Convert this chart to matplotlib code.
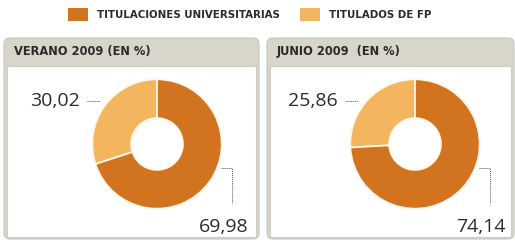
import matplotlib.pyplot as plt
from matplotlib.patches import FancyBboxPatch, Rectangle

categories = ["TITULACIONES UNIVERSITARIAS", "TITULADOS DE FP"]
panels = ["VERANO 2009 (EN %)", "JUNIO 2009  (EN %)"]
univ = [69.98, 74.14]
fp = [30.02, 25.86]
univ_labels = ["69,98", "74,14"]
fp_labels = ["30,02", "25,86"]

DARK = "#d2731f"
LIGHT = "#f3b65e"
HEAD = "#d8d5cb"
TXT = "#2b2b2b"

W, H = 515, 241
fig = plt.figure(figsize=(W / 100, H / 100), dpi=100)
bg = fig.add_axes([0, 0, 1, 1])
bg.set_xlim(0, W)
bg.set_ylim(H, 0)
bg.axis("off")

bold = dict(family="DejaVu Sans", stretch="condensed", weight="bold", color=TXT)

# legend
for x, col, lab in [(68, DARK, categories[0]), (300, LIGHT, categories[1])]:
    bg.add_patch(Rectangle((x, 8), 20, 13, color=col, lw=0))
    bg.text(x + 29, 15, lab, fontsize=8.2, va="center", ha="left", **bold)

# panels
panel_x = [(4, 259), (267, 514)]
pie_cx = [157, 415]
for i, (x0, x1) in enumerate(panel_x):
    bg.add_patch(FancyBboxPatch((x0, 38), x1 - x0, 201,
                                boxstyle="round,pad=0,rounding_size=6",
                                fc=HEAD, ec="#c9c6bc", lw=0.8))
    bg.add_patch(Rectangle((x0 + 3, 66), x1 - x0 - 6, 171, fc="white",
                           ec="#cfccc2", lw=0.8))
    bg.text(x0 + 10, 52, panels[i], fontsize=9.2, va="center", ha="left", **bold)

    r = 66
    cx, cy = pie_cx[i], 144
    ax = fig.add_axes([(cx - r) / W, 1 - (cy + r) / H, 2 * r / W, 2 * r / H])
    ax.pie([fp[i], univ[i]], colors=[LIGHT, DARK], startangle=90,
           counterclock=True, radius=1,
           wedgeprops=dict(width=0.6, edgecolor="#fdf6ea", linewidth=1.3))
    ax.set_xlim(-1.02, 1.02)
    ax.set_ylim(-1.02, 1.02)
    ax.set_aspect("equal")
    ax.axis("off")

    # labels and leader lines
    bg.text(cx - 77, 101, fp_labels[i], fontsize=14, ha="right", va="center",
            color=TXT, family=["Open Sans", "DejaVu Sans"])
    bg.plot([cx - 70, cx - 57], [101, 101], color="#555555", lw=0.7, ls=(0, (1, 1)))
    bg.plot([cx + 64, cx + 75, cx + 75], [168, 168, 203], color="#555555",
            lw=0.7, ls=(0, (1, 1)))
    bg.text(cx + 91, 227, univ_labels[i], fontsize=14, ha="right", va="center",
            color=TXT, family=["Open Sans", "DejaVu Sans"])

fig.savefig("out.png", dpi=100)
